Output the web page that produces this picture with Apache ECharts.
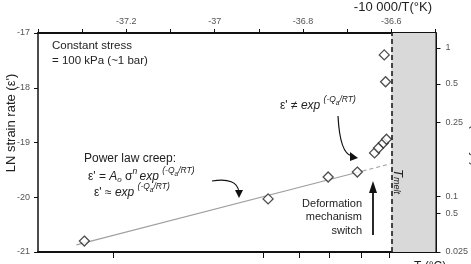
<!DOCTYPE html>
<html>
<head>
<meta charset="utf-8">
<script src="https://cdn.jsdelivr.net/npm/echarts@6/dist/echarts.min.js"></script>
<style>
  html, body { margin: 0; padding: 0; background: #fff; }
  #chart { width: 471px; height: 264px; }
</style>
</head>
<body>
<div id="chart"></div>
<script>
// measured points, x = -10000/T, y = LN strain rate
var pointX = [-37.295, -36.879, -36.743, -36.677, -36.638, -36.629, -36.618, -36.611, -36.616, -36.613];
var pointY = [-20.80, -20.03, -19.63, -19.54, -19.19, -19.10, -19.01, -18.94, -17.40, -17.89];

// power law fit, solid then dashed part
var fitX = [-37.313, -36.665];
var fitY = [-20.87, -19.52];
var fitDashX = [-36.665, -36.602];
var fitDashY = [-19.52, -19.39];

// melt line and grey zone
var meltX = -36.6;
var zoneEnd = -36.5;

// top axis labels
var topLabels = [-37.2, -37, -36.8, -36.6];
// right axis (strain rate) ticks
var rightTickValues = [-17.274, -17.93, -18.63, -19.98, -20.29, -21];
var rightTickLabels = ['1', '0.5', '0.25', '0.1', '0.5', '0.025'];
// bottom axis (T in °C) ticks, no labels visible
var bottomTickValues = [-37.23, -36.89, -36.809, -36.741, -36.668, -36.604];

var font = 'Liberation Sans, Arial, sans-serif';
var tickFont = 'Liberation Sans Narrow, Liberation Sans, Arial, sans-serif';

function zip(a, b) {
    var out = [];
    for (var i = 0; i < a.length; i++) out.push([a[i], b[i]]);
    return out;
}

// lay out a line of mixed-size text (super/subscripts) piece by piece
var measureCtx = document.createElement('canvas').getContext('2d');
function textLine(x, y, pieces, rotation) {
    var kids = [];
    var cx = 0;
    pieces.forEach(function (p) {
        var size = p.size || 12;
        var style = p.italic ? 'italic ' : '';
        measureCtx.font = style + size + 'px Liberation Sans';
        kids.push({
            type: 'text', x: cx, y: p.dy || 0, z: 100,
            style: {
                text: p.t, fontSize: size, fontFamily: font,
                fontStyle: p.italic ? 'italic' : 'normal',
                fill: '#222', textAlign: 'left', textVerticalAlign: 'middle'
            }
        });
        cx += measureCtx.measureText(p.t).width;
    });
    return { type: 'group', x: x, y: y, rotation: rotation || 0, children: kids };
}

function expTail() {
    return [
        { t: 'exp ', italic: true },
        { t: '(-Q', size: 8.5, italic: true, dy: -6 },
        { t: 'a', size: 6.5, italic: true, dy: -3 },
        { t: '/RT)', size: 8.5, italic: true, dy: -6 }
    ];
}

var chart = echarts.init(document.getElementById('chart'));

var axisText = { color: '#555', fontSize: 9, fontFamily: tickFont };

var graphics = [
    // axis names
    { type: 'text', x: 432, y: 7, style: { text: '-10 000/T(°K)', fontSize: 13, fontFamily: font, fill: '#222', textAlign: 'right', textVerticalAlign: 'middle' } },
    { type: 'text', x: 11, y: 123, rotation: Math.PI / 2, style: { text: "LN strain rate (ε')", fontSize: 13, fontFamily: font, fill: '#222', textAlign: 'center', textVerticalAlign: 'middle' } },
    { type: 'text', x: 475, y: 140, rotation: -Math.PI / 2, style: { text: "ε' (mm/yr)", fontSize: 12, fontFamily: font, fill: '#222', textAlign: 'center', textVerticalAlign: 'middle' } },
    { type: 'text', x: 414, y: 261, style: { text: 'T (°C)', fontSize: 12, fontFamily: font, fill: '#222', textAlign: 'left', textVerticalAlign: 'top' } },
    // notes
    { type: 'text', x: 52, y: 53, style: { text: 'Constant stress\n= 100 kPa (~1 bar)', fontSize: 11.5, lineHeight: 15, fontFamily: font, fill: '#222', textAlign: 'left', textVerticalAlign: 'middle' } },
    textLine(280, 106, [{ t: "ε' ≠ " }].concat(expTail())),
    { type: 'text', x: 84, y: 159, style: { text: 'Power law creep:', fontSize: 12, fontFamily: font, fill: '#222', textAlign: 'left', textVerticalAlign: 'middle' } },
    textLine(88, 177, [
        { t: "ε' = " }, { t: 'A', italic: true }, { t: 'o', size: 8, italic: true, dy: 3 },
        { t: ' σ' }, { t: 'n ', size: 8.5, italic: true, dy: -5 }
    ].concat(expTail())),
    textLine(94, 193, [{ t: "ε' ≈ " }].concat(expTail())),
    { type: 'text', x: 362, y: 217, style: { text: 'Deformation\nmechanism\nswitch', fontSize: 11, lineHeight: 13.5, fontFamily: font, fill: '#222', textAlign: 'right', textVerticalAlign: 'middle' } },
    textLine(398, 169, [
        { t: 'T', size: 13, italic: true }, { t: 'melt', size: 9, italic: true, dy: 2 }
    ], -Math.PI / 2),
    // arrows
    { type: 'bezierCurve', shape: { x1: 212, y1: 181, cpx1: 237, cpy1: 177, x2: 239, y2: 192 }, style: { stroke: '#111', lineWidth: 1.2, fill: null } },
    { type: 'polygon', shape: { points: [[235, 190], [243, 190], [239, 198]] }, style: { fill: '#111' } },
    { type: 'bezierCurve', shape: { x1: 338, y1: 116, cpx1: 340, cpy1: 154, x2: 352, y2: 156 }, style: { stroke: '#111', lineWidth: 1.2, fill: null } },
    { type: 'polygon', shape: { points: [[350, 152], [350, 161], [358, 158]] }, style: { fill: '#111' } },
    { type: 'line', shape: { x1: 373, y1: 235, x2: 373, y2: 190 }, style: { stroke: '#111', lineWidth: 1.8 } },
    { type: 'polygon', shape: { points: [[369, 193], [377, 193], [373, 181]] }, style: { fill: '#111' } }
];
graphics.forEach(function (g) { if (g.type !== 'group') g.z = 100; });

var option = {
    animation: false,
    grid: { left: 38, top: 33, right: 35, bottom: 12, containLabel: false },
    xAxis: [
        {
            type: 'value', position: 'top',
            min: -37.4, max: -36.5, interval: 0.1,
            axisLine: { lineStyle: { color: '#111', width: 2 } },
            axisTick: { length: 4, lineStyle: { color: '#111', width: 1 } },
            axisLabel: Object.assign({
                margin: 7,
                formatter: function (v) {
                    var r = Math.round(v * 10) / 10;
                    for (var i = 0; i < topLabels.length; i++) {
                        if (Math.abs(topLabels[i] - r) < 1e-6) return String(topLabels[i]);
                    }
                    return '';
                }
            }, axisText),
            splitLine: { show: false }
        },
        {
            type: 'value', position: 'bottom',
            min: -37.4, max: -36.5,
            axisLine: { lineStyle: { color: '#111', width: 2 } },
            axisTick: { length: 6, customValues: bottomTickValues, lineStyle: { color: '#111', width: 1 } },
            axisLabel: { show: false },
            splitLine: { show: false }
        }
    ],
    yAxis: [
        {
            type: 'value', position: 'left',
            min: -21, max: -17, interval: 1,
            axisLine: { show: true, lineStyle: { color: '#111', width: 1.5 } },
            axisTick: { show: true, length: 4, lineStyle: { color: '#111', width: 1 } },
            axisLabel: Object.assign({ margin: 8 }, axisText),
            splitLine: { show: false }
        },
        {
            type: 'value', position: 'right',
            min: -21, max: -17,
            axisLine: { show: true, lineStyle: { color: '#111', width: 2 } },
            axisTick: { show: true, length: 5, customValues: rightTickValues, lineStyle: { color: '#111', width: 1 } },
            axisLabel: Object.assign({
                margin: 10,
                customValues: rightTickValues,
                formatter: function (v) {
                    var best = 0;
                    for (var i = 1; i < rightTickValues.length; i++) {
                        if (Math.abs(rightTickValues[i] - v) < Math.abs(rightTickValues[best] - v)) best = i;
                    }
                    return rightTickLabels[best];
                }
            }, axisText),
            splitLine: { show: false }
        }
    ],
    series: [
        {
            type: 'line', xAxisIndex: 0, yAxisIndex: 0,
            data: [], silent: true,
            markArea: {
                silent: true,
                itemStyle: { color: '#d9d9d9' },
                data: [[{ xAxis: meltX }, { xAxis: zoneEnd }]]
            },
            markLine: {
                silent: true, symbol: 'none',
                label: { show: false },
                lineStyle: { color: '#111', width: 1.5, type: [5, 3] },
                data: [{ xAxis: meltX }]
            }
        },
        {
            type: 'line', xAxisIndex: 0, yAxisIndex: 0,
            data: zip(fitX, fitY), symbol: 'none', silent: true,
            lineStyle: { color: '#a0a0a0', width: 1.2 }
        },
        {
            type: 'line', xAxisIndex: 0, yAxisIndex: 0,
            data: zip(fitDashX, fitDashY), symbol: 'none', silent: true,
            lineStyle: { color: '#a0a0a0', width: 1.2, type: [4, 3] }
        },
        {
            type: 'scatter', xAxisIndex: 0, yAxisIndex: 0,
            data: zip(pointX, pointY),
            symbol: 'diamond', symbolSize: 10,
            itemStyle: { color: '#fff', borderColor: '#222', borderWidth: 1.3 },
            z: 5
        }
    ],
    graphic: graphics
};

chart.setOption(option);
</script>
</body>
</html>
